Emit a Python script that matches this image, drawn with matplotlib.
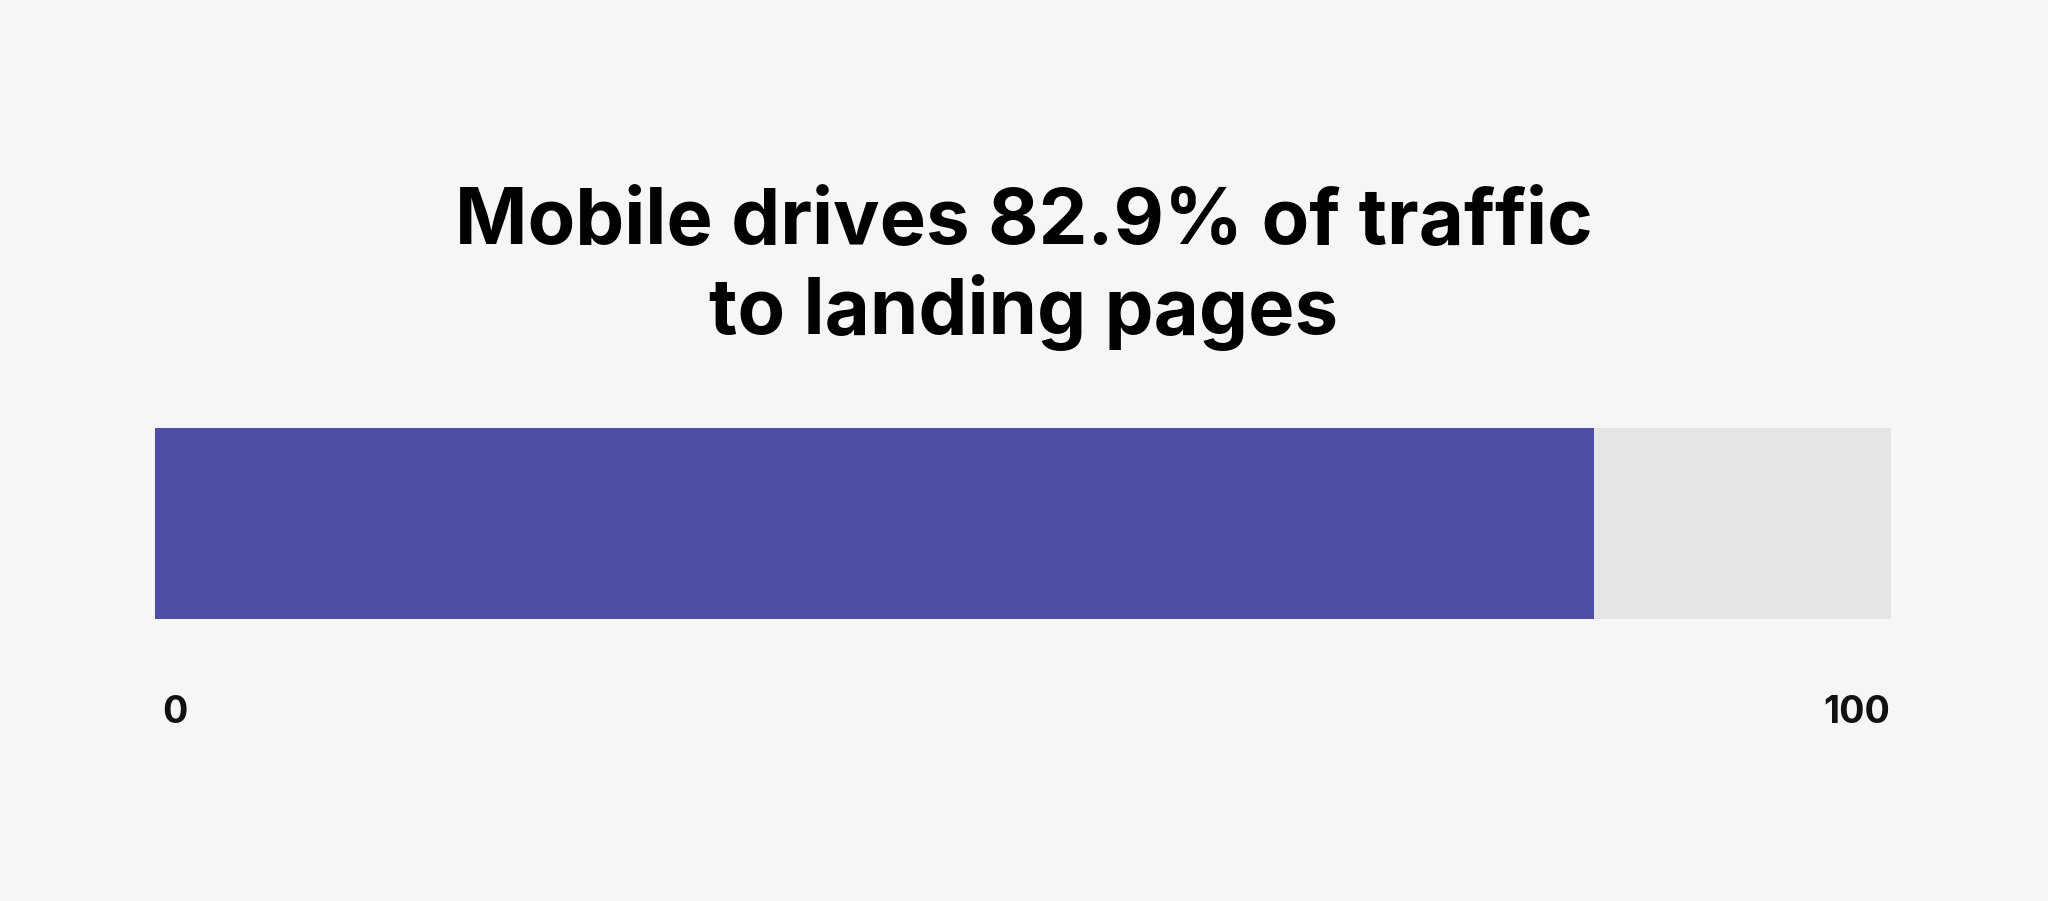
import matplotlib.pyplot as plt

# data
title = "Mobile drives 82.9% of traffic\nto landing pages"
share = 82.9
total = 100
tick_labels = ["0", "100"]

plt.rcParams['font.family'] = ['Inter', 'DejaVu Sans']

bg = '#f6f6f6'
fig = plt.figure(figsize=(20.48, 9.01), dpi=100, facecolor=bg)
# axes placed to match the bar position in pixels
W, H = 2048, 901
left, right, top, bottom = 155, 1891, 428, 619
ax = fig.add_axes([left / W, 1 - bottom / H, (right - left) / W, (bottom - top) / H])
ax.set_facecolor(bg)

ax.barh(0, total, height=1, color='#e5e5e5', left=0)
ax.barh(0, share, height=1, color='#4e4fa4', left=0)
ax.set_xlim(0, total)
ax.set_ylim(-0.5, 0.5)
ax.axis('off')

# axis end labels
ax.annotate(tick_labels[0], xy=(0, -0.5), xytext=(7, -104), textcoords='offset pixels',
            ha='left', va='baseline', fontsize=27, fontweight='bold', color='#111111')
ax.annotate(tick_labels[1], xy=(total, -0.5), xytext=(-1, -104), textcoords='offset pixels',
            ha='right', va='baseline', fontsize=27, fontweight='bold', color='#111111')

fig.text(0.5, 1 - 244 / H, title.split('\n')[0], ha='center', va='baseline',
         fontsize=56, fontweight='bold', color='#000000')
fig.text(0.5, 1 - 334 / H, title.split('\n')[1], ha='center', va='baseline',
         fontsize=56, fontweight='bold', color='#000000')

fig.savefig('out.png', dpi=100, facecolor=bg)
